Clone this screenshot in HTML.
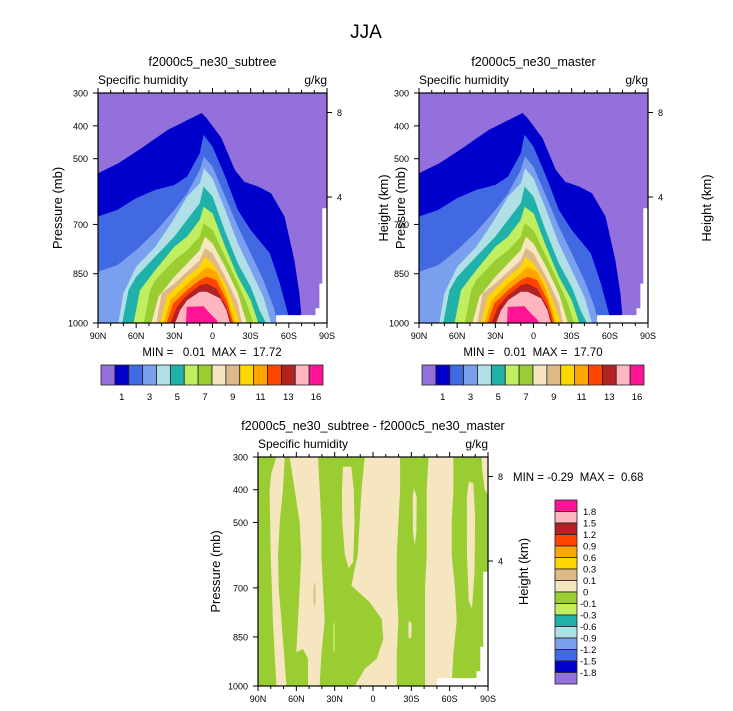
<!DOCTYPE html>
<html><head><meta charset="utf-8">
<style>
html,body{margin:0;padding:0;background:#fff;}
svg{display:block;font-family:"Liberation Sans",Helvetica,Arial,sans-serif;}
.pre{white-space:pre;}
</style></head>
<body>
<svg id="fig" width="733" height="711" viewBox="0 0 733 711" xmlns="http://www.w3.org/2000/svg">
<text x="366" y="38" font-size="19" text-anchor="middle">JJA</text>
</svg>
<script>
// ---- data ----
const levelColors = ["#9370DB","#0000CD","#4169E1","#7B9FEF","#B0E0E6","#20B2AA","#C0EE60","#9ACD32","#F5E6C0","#DEB887","#FFD700","#FFA500","#FF4500","#B22222","#FFB6C1","#FF1493"];
const L1 = [[90,544],[74,514],[56,468],[35,412],[19,381],[8.6,361],[4.7,376],[-7,437],[-17.5,534],[-25,570],[-36,585],[-46,605],[-56.6,676],[-64.4,809],[-68.3,910],[-69.7,971],[-67.5,1000]];
const L2 = [[90,676],[75,656],[60,620],[45,595],[30,580],[20,554],[10,483],[7,427],[0,463],[-10,554],[-20,656],[-30,717],[-45,788],[-53,880],[-60,981],[-61,1000]];
const L3 = [[90,844],[75,824],[60,778],[45,722],[30,656],[20,605],[10,534],[6.7,493],[0,524],[-10,615],[-20,707],[-30,788],[-40,870],[-48,951],[-51,1000]];
const L4 = [[74,1000],[70,910],[60,829],[45,768],[36,717],[30,681],[20,615],[10,575],[6.7,529],[0,560],[-10,656],[-20,758],[-30,839],[-40,921],[-46,1000]];
const L5 = [[71,1000],[66,900],[60,859],[45,798],[30,737],[20,686],[10,635],[7,585],[0,615],[-10,722],[-20,819],[-30,890],[-37,961],[-42,1000]];
const L6 = [[62,1000],[57,900],[45,839],[30,768],[20,737],[10,686],[7,646],[0,666],[-10,768],[-20,859],[-30,931],[-36,1000]];
const L7 = [[54,1000],[49,900],[45,869],[30,809],[20,778],[10,737],[7,696],[0,717],[-10,798],[-20,880],[-27,941],[-32,1000]];
const L8 = [[48,1000],[42.5,920],[30,859],[20,819],[10,778],[6,737],[0,758],[-10,829],[-20,910],[-27,1000]];
const L9 = [[44,1000],[40,910],[30,880],[20,844],[10,809],[6,772],[0,788],[-10,859],[-20,941],[-23,1000]];
const L10 = [[41,1000],[36,920],[20,859],[10,829],[6,798],[0,819],[-10,880],[-19,971],[-21.5,1000]];
const L11 = [[38.5,1000],[33,931],[20,880],[10,849],[4.6,829],[-3,844],[-10,900],[-17.6,1000]];
const L12 = [[36,1000],[31,941],[20,900],[10,869],[4.6,859],[-3,869],[-11,931],[-16.3,1000]];
const L13 = [[33,1000],[28,951],[20,915],[10,885],[4.6,880],[-3,895],[-11,951],[-15,1000]];
const L14 = [[29.4,1000],[25.5,961],[20,931],[10,905],[4.6,905],[-6,925],[-11,961],[-13.7,1000]];
const L15 = [[20.8,1000],[20.3,951],[7,949],[2,971],[-3,990],[-4.6,1000]];
const topLevels = [L1,L2,L3,L4,L5,L6,L7,L8,L9,L10,L11,L12,L13,L14,L15];
const groundMask = [[-50,1000],[-50,976],[-81,976],[-81,955],[-84,955],[-84,880],[-86.3,880],[-86.3,651],[-90,651],[-90,1000]];
// difference plot (green = -0.1..0 band, over wheat 0..0.1 background)
const diffGreen = [
 [[90,300],[75.6,300],[79.6,350],[80.9,400],[80.1,600],[78.3,800],[77,900],[75.6,1000],[90,1000]],
 [[69.1,300],[70.4,400],[73,500],[74.3,600],[73.8,700],[71.7,800],[69.6,900],[67.8,1000],[50.9,1000],[50.9,917],[54.8,887],[60,897],[58.7,800],[57.4,700],[56.1,600],[57.4,500],[61.3,400],[65.2,300]],
 [[43,300],[41.7,400],[40.4,500],[40.4,600],[39.1,700],[37.8,800],[40.4,900],[41.7,1000],[14.3,1000],[6.5,948],[-2.9,917],[-8.1,856],[-6.8,795],[2.6,744],[16.9,693],[14.3,642],[12,600],[10.5,500],[9,400],[6.5,300]],
 [[-21.2,300],[-21.2,400],[-19.9,500],[-18.6,600],[-18.6,700],[-19.9,800],[-18.6,900],[-18.6,1000],[-40.7,1000],[-40.7,900],[-40.7,800],[-40.7,700],[-42,600],[-42,500],[-42,400],[-43.4,300]],
 [[-62.9,300],[-62.9,400],[-61.6,500],[-61.6,600],[-64.2,700],[-65.5,800],[-62.9,900],[-61.6,1000],[-90,1000],[-90,300]]
];
const diffBeige = [
 [[23.5,330],[24.3,400],[24,500],[22,600],[19,640],[15.5,620],[14.5,500],[15,400],[17,330]],
 [[-31.1,420],[-32,397],[-34.2,420],[-34,530],[-32.6,570],[-31.3,530]],
 [[-27.7,810],[-28.5,800],[-30.3,810],[-30,850],[-28.8,856],[-27.8,850]],
 [[-73.4,420],[-75,376],[-78.5,380],[-79.9,480],[-79.5,650],[-77.5,764],[-75,740],[-73.6,600]],
 [[-85,300],[-90,300],[-90,417],[-87.5,400],[-85.5,340]]
];
const diffTan = [[[45,700],[45.8,680],[46.6,700],[46.6,745],[45.8,760],[45,745]]];
const diffLight = [[[30,815],[30.6,800],[31.2,815],[31.2,890],[30.6,900],[30,890]]];
const latTicks = [90,60,30,0,-30,-60,-90];
const latLabels = ["90N","60N","30N","0","30S","60S","90S"];
const presTicks = [300,400,500,700,850,1000];
const heightTicks = [[8,112.5],[4,197]];
const cbLabelsTop = ["1","3","5","7","9","11","13","16"];
const cbLabelsDiff = ["1.8","1.5","1.2","0.9","0.6","0.3","0.1","0","-0.1","-0.3","-0.6","-0.9","-1.2","-1.5","-1.8"];

const NS="http://www.w3.org/2000/svg";
const svg=document.getElementById('fig');
function mk(tag,attrs,parent){const e=document.createElementNS(NS,tag);for(const k in attrs)e.setAttribute(k,attrs[k]);(parent||svg).appendChild(e);return e;}
function txt(s,attrs,parent){const e=mk('text',attrs,parent);e.textContent=s;return e;}

function panel(x0,y0,w,h,title,id,drawFn,presOff,heightOff){
  const g=mk('g',{});
  
  
  const X=lat=>x0+(90-lat)/180*w;
  const Y=p=>y0+(p-300)/700*h;
  const poly=(pts,fill,name)=>{const e=mk('polygon',{points:pts.map(q=>X(q[0]).toFixed(1)+','+Y(q[1]).toFixed(1)).join(' '),fill:fill},g);
    
    return e;};
  drawFn(poly,X,Y,g);
  poly(groundMask,'#fff','below-ground-mask');
  const fr=mk('rect',{x:x0,y:y0,width:w,height:h,fill:'none',stroke:'#000','stroke-width':1.2},g);
  
  
  for(let lat=90;lat>=-90;lat-=10){
    const major=lat%30===0, L=major?5:3;
    mk('line',{x1:X(lat),x2:X(lat),y1:y0+h,y2:y0+h+L,stroke:'#000'},g);
    mk('line',{x1:X(lat),x2:X(lat),y1:y0,y2:y0-L,stroke:'#000'},g);
  }
  latTicks.forEach((lat,i)=>{const t=txt(latLabels[i],{x:X(lat),y:y0+h+16,'font-size':9,'text-anchor':'middle'},g);
    
    });
  presTicks.forEach(p=>{mk('line',{x1:x0-5,x2:x0,y1:Y(p),y2:Y(p),stroke:'#000'},g);
    const t=txt(String(p),{x:x0-10,y:Y(p)+3.5,'font-size':9,'text-anchor':'end'},g);
    
    });
  heightTicks.forEach(ht=>{const yy=y0+ht[1]-93;mk('line',{x1:x0+w,x2:x0+w+5,y1:yy,y2:yy,stroke:'#000'},g);
    const t=txt(String(ht[0]),{x:x0+w+10,y:yy+3.5,'font-size':9},g);
    
    });
  const yt=txt('Pressure (mb)',{x:0,y:0,'font-size':13,'text-anchor':'middle',transform:`translate(${x0+presOff},${y0+h/2}) rotate(-90)`},g);
  
  
  const ht=txt('Height (km)',{x:0,y:0,'font-size':13,'text-anchor':'middle',transform:`translate(${x0+w+heightOff},${y0+h/2}) rotate(-90)`},g);
  
  
  const tt=txt(title,{x:x0+w/2,y:y0-27,'font-size':12.5,'text-anchor':'middle'},g);
  
  
  const lt=txt('Specific humidity',{x:x0,y:y0-9,'font-size':12},g);
  
  
  const ut=txt('g/kg',{x:x0+w,y:y0-9,'font-size':12,'text-anchor':'end'},g);
  
  
}

function drawTop(poly){
  poly([[90,300],[-90,300],[-90,1000],[90,1000]],levelColors[0],'level-0-fill');
  topLevels.forEach((lv,i)=>{
    const pts=lv.slice();
    if(lv[0][0]===90) pts.unshift([90,1000]);
    poly(pts,levelColors[i+1],'level-'+(i+1)+'-fill');
  });
}
function drawDiff(poly){
  poly([[90,300],[-90,300],[-90,1000],[90,1000]],'#F5E6C0','positive-background');
  diffGreen.forEach(d=>poly(d,'#9ACD32','negative-band'));
  diffBeige.forEach(d=>poly(d,'#F5E6C0','positive-island'));
  diffTan.forEach(d=>poly(d,'#DEB887','tan-patch'));
  diffLight.forEach(d=>poly(d,'#C0EE60','light-green-patch'));
}

panel(98,93,229,230,'f2000c5_ne30_subtree','subtree',drawTop,-36,61);
panel(419,93,229,230,'f2000c5_ne30_master','master',drawTop,-14,63);
panel(258,457,230,229,'f2000c5_ne30_subtree - f2000c5_ne30_master','difference',drawDiff,-38,40);

[[212,'0.01','17.72'],[533,'0.01','17.70']].forEach(m=>{
  const t=txt('MIN =   '+m[1]+'  MAX =  '+m[2],{x:m[0],y:356,'font-size':11.5,'text-anchor':'middle','class':'pre'});
  
  
});
const dm=txt('MIN = -0.29  MAX =  0.68',{x:513,y:481,'font-size':11.5,'class':'pre'});



[101,422].forEach(cx=>{
  const bw=(323-101)/16;
  levelColors.forEach((c,i)=>{const r=mk('rect',{x:cx+i*bw,y:365,width:bw,height:20,fill:c,stroke:'#222','stroke-width':0.8});
    
    });
  cbLabelsTop.forEach((s,i)=>{const t=txt(s,{x:cx+(2*i+1.5)*bw,y:400,'font-size':9.5,'text-anchor':'middle'});
    
    });
});
{
  const bh=(684-500)/16;
  levelColors.slice().reverse().forEach((c,i)=>{const r=mk('rect',{x:555,y:500+i*bh,width:22,height:bh,fill:c,stroke:'#222','stroke-width':0.8});
    
    });
  cbLabelsDiff.forEach((s,i)=>{const t=txt(s,{x:s[0]==='-'?580:583,y:500+(i+1)*bh+3.5,'font-size':9.5});
    
    });
}
</script>
</body></html>
